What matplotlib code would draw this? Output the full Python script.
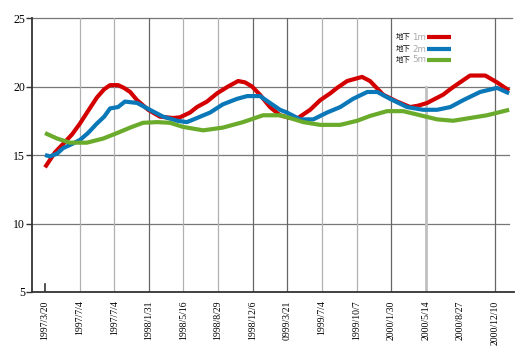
import matplotlib.pyplot as plt
from matplotlib.lines import Line2D

# tick labels along the bottom (one per grid column)
tick_labels = ["1997/3/20", "1997/7/4", "1997/7/4", "1998/1/31", "1998/5/16",
               "1998/8/29", "1998/12/6", "0999/3/21", "1999/7/4", "1999/10/7",
               "2000/1/30", "2000/5/14", "2000/8/27", "2000/12/10"]

# positions in tick units, values in degrees
red_x = [0, 0.29, 0.52, 0.78, 1.01, 1.24, 1.50, 1.71, 1.88, 2.11, 2.28, 2.46, 2.66,
         2.98, 3.32, 3.70, 3.90, 4.19, 4.39, 4.68, 4.97, 5.29, 5.58, 5.78, 5.98, 6.21,
         6.50, 6.79, 7.08, 7.31, 7.66, 7.95, 8.24, 8.44, 8.73, 9.16, 9.39, 9.77, 10.17,
         10.55, 10.78, 11.04, 11.27, 11.50, 11.76, 11.99, 12.28, 12.72, 13.06, 13.41]
red_y = [14.1, 15.2, 15.8, 16.5, 17.3, 18.2, 19.2, 19.8, 20.1, 20.1, 19.9, 19.6, 19.0,
         18.3, 17.8, 17.7, 17.75, 18.1, 18.5, 18.9, 19.5, 20.0, 20.4, 20.3, 20.0, 19.4,
         18.5, 17.9, 17.7, 17.7, 18.3, 19.0, 19.5, 19.9, 20.4, 20.7, 20.4, 19.4, 18.9,
         18.5, 18.6, 18.8, 19.1, 19.4, 19.9, 20.3, 20.8, 20.8, 20.3, 19.7]

blue_x = [0, 0.14, 0.35, 0.52, 0.78, 1.01, 1.24, 1.50, 1.71, 1.88, 2.11, 2.31, 2.66,
          3.03, 3.41, 3.82, 4.10, 4.39, 4.77, 5.14, 5.55, 5.84, 6.21, 6.50, 6.79, 6.99,
          7.37, 7.75, 8.15, 8.53, 8.90, 9.31, 9.60, 9.97, 10.46, 10.92, 11.33, 11.71,
          12.08, 12.57, 13.06, 13.41]
blue_y = [15.0, 14.9, 15.1, 15.5, 15.8, 16.1, 16.6, 17.3, 17.8, 18.4, 18.5, 18.9, 18.8,
          18.3, 17.8, 17.5, 17.4, 17.7, 18.1, 18.7, 19.1, 19.3, 19.3, 18.8, 18.3, 18.1,
          17.6, 17.6, 18.1, 18.5, 19.1, 19.6, 19.6, 19.1, 18.5, 18.3, 18.3, 18.5,
          19.0, 19.6, 19.9, 19.5]

green_x = [0, 0.35, 0.72, 1.21, 1.68, 2.08, 2.46, 2.83, 3.24, 3.61, 3.99, 4.57, 5.14,
           5.72, 6.30, 6.79, 7.08, 7.46, 7.95, 8.53, 9.02, 9.39, 9.88, 10.35, 10.84,
           11.33, 11.79, 12.28, 12.77, 13.41]
green_y = [16.6, 16.2, 15.9, 15.9, 16.2, 16.6, 17.0, 17.35, 17.4, 17.35, 17.05, 16.8, 17.0,
           17.4, 17.9, 17.9, 17.7, 17.4, 17.2, 17.2, 17.5, 17.85, 18.2, 18.2, 17.9,
           17.6, 17.5, 17.7, 17.9, 18.3]

series = [("1m", red_x, red_y, "#d40000"),
          ("2m", blue_x, blue_y, "#0a78b8"),
          ("5m", green_x, green_y, "#6aab2c")]

fig = plt.figure(figsize=(5.31, 3.54), dpi=100)
ax = fig.add_axes([32 / 531, 62 / 354, 482 / 531, 274 / 354])
ax.set_xlim(-0.376, 13.55)
ax.set_ylim(5, 25)

# horizontal grid
for v in [10, 15, 20]:
    ax.plot([-0.376, 13.41], [v, v], color="#777777", lw=0.9, zorder=1)
ax.plot([-0.376, 13.5], [25, 25], color="#777777", lw=0.9, zorder=1, clip_on=False)

# vertical grid: darker on some columns, missing on one
dark = [3, 6, 7, 10, 13]
light = [1, 2, 4, 5, 8, 9]
for t in dark:
    ax.plot([t, t], [5, 25], color="#666666", lw=0.9, zorder=1)
for t in light:
    ax.plot([t, t], [5, 25], color="#b0b0b0", lw=0.9, zorder=1)
ax.plot([11, 11], [5, 20], color="#c0c0c0", lw=2.0, zorder=1)
ax.plot([0, 0], [5, 5.6], color="#333333", lw=1.2, zorder=1)

for name, xs, ys, c in series:
    ax.plot(xs, ys, color=c, lw=3, solid_capstyle="butt", zorder=3)

for s in ["top", "right"]:
    ax.spines[s].set_visible(False)
ax.spines["left"].set_color("#333333")
ax.spines["bottom"].set_color("#333333")
ax.spines["left"].set_linewidth(1.3)
ax.spines["bottom"].set_linewidth(1.3)

ax.set_yticks([5, 10, 15, 20, 25])
ax.set_yticklabels(["5", "10", "15", "20", "25"], family="Liberation Serif", fontsize=8.5)
ax.tick_params(axis="y", length=4, width=1, color="#333333", pad=1)

ax.set_xticks(range(len(tick_labels)))
ax.set_xticklabels(tick_labels, rotation=90, family="Liberation Serif", fontsize=7,
                   va="top", ha="center")
ax.tick_params(axis="x", length=0, pad=6)

# legend drawn by hand
rows = [37, 49, 60]
for (name, xs, ys, c), yp in zip(series, rows):
    yf = 1 - yp / 354
    fig.text(396 / 531, yf, "地下", family=["Noto Sans CJK JP", "DejaVu Sans"],
             fontsize=5.4, va="center", ha="left", color="#111111")
    fig.text(412 / 531, yf, name, family="DejaVu Sans", fontsize=6.3,
             va="center", ha="left", color="#aaaaaa")
    fig.add_artist(Line2D([427 / 531, 451 / 531], [yf, yf], color=c, lw=3,
                          solid_capstyle="butt"))

fig.savefig("out.png", dpi=100)
